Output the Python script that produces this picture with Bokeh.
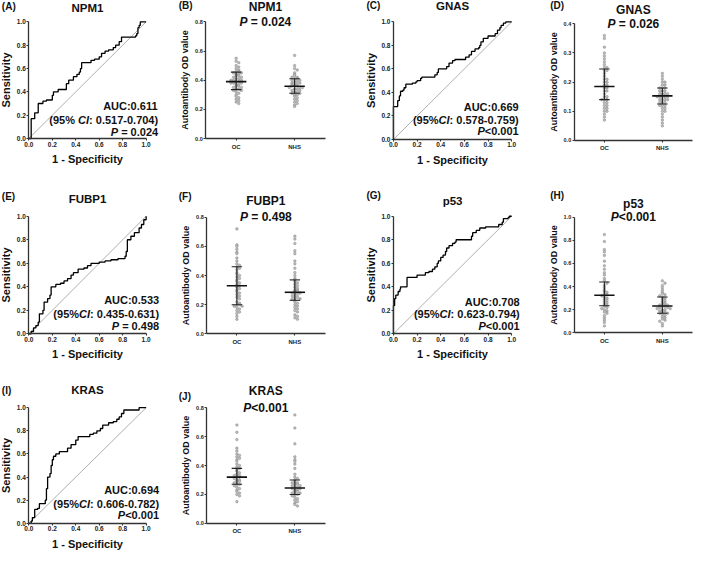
from bokeh.plotting import figure
from bokeh.layouts import column, row
from bokeh.models import Range1d, FixedTicker, PrintfTickFormatter, Label
from bokeh.embed import file_html
from bokeh.resources import INLINE

FONT = "Liberation Sans"
INK = "#111111"
AXIS = "#333333"

# ---------------- ROC curves (FPR = 1 - specificity, TPR = sensitivity) ----------------
chance_line = [0.0, 1.0]

npm1_fpr = [0, 0.02, 0.05, 0.08, 0.12, 0.15, 0.20, 0.21, 0.25, 0.32, 0.34, 0.38, 0.41, 0.43, 0.44, 0.45,
            0.53, 0.56, 0.60, 0.62, 0.65, 0.68, 0.72, 0.74, 0.77, 0.79, 0.91, 0.92, 0.93, 0.94, 0.95, 1.0]
npm1_tpr = [0, 0.17, 0.22, 0.30, 0.32, 0.33, 0.37, 0.40, 0.42, 0.47, 0.50, 0.53, 0.55, 0.57, 0.60, 0.65,
            0.67, 0.68, 0.70, 0.73, 0.75, 0.76, 0.78, 0.80, 0.83, 0.87, 0.88, 0.90, 0.95, 0.97, 1.0, 1.0]

gnas_fpr = [0, 0, 0.036, 0.05, 0.06, 0.08, 0.09, 0.105, 0.16, 0.19, 0.20, 0.23, 0.24, 0.35, 0.37, 0.38,
            0.40, 0.45, 0.47, 0.50, 0.52, 0.61, 0.64, 0.66, 0.69, 0.72, 0.73, 0.74, 0.76, 0.80, 0.86, 0.88,
            0.90, 0.91, 0.93, 0.95, 1.0]
gnas_tpr = [0, 0.28, 0.33, 0.37, 0.41, 0.42, 0.44, 0.47, 0.48, 0.49, 0.50, 0.52, 0.53, 0.55, 0.57, 0.60,
            0.60, 0.62, 0.65, 0.67, 0.68, 0.70, 0.72, 0.75, 0.77, 0.78, 0.80, 0.83, 0.86, 0.88, 0.90, 0.93,
            0.95, 0.97, 0.99, 1.0, 1.0]

fubp1_fpr = [0, 0.02, 0.04, 0.06, 0.08, 0.09, 0.12, 0.13, 0.16, 0.18, 0.19, 0.23, 0.27, 0.30, 0.33, 0.36,
             0.38, 0.42, 0.47, 0.50, 0.53, 0.60, 0.65, 0.70, 0.76, 0.82, 0.83, 0.84, 0.87, 0.90, 0.94, 0.96,
             0.98, 1.0]
fubp1_tpr = [0, 0.02, 0.05, 0.07, 0.10, 0.17, 0.20, 0.27, 0.30, 0.33, 0.40, 0.42, 0.43, 0.45, 0.47, 0.50,
             0.52, 0.55, 0.56, 0.58, 0.60, 0.61, 0.62, 0.63, 0.64, 0.66, 0.70, 0.80, 0.83, 0.86, 0.90, 0.93,
             0.97, 1.0]

p53_fpr = [0, 0, 0.01, 0.02, 0.04, 0.055, 0.06, 0.115, 0.20, 0.27, 0.30, 0.33, 0.35, 0.37, 0.38, 0.40,
           0.42, 0.44, 0.45, 0.47, 0.50, 0.52, 0.53, 0.66, 0.67, 0.70, 0.73, 0.78, 0.89, 0.92, 0.93, 0.97,
           0.98, 1.0]
p53_tpr = [0, 0.24, 0.30, 0.33, 0.36, 0.38, 0.40, 0.48, 0.50, 0.52, 0.53, 0.55, 0.57, 0.60, 0.62, 0.65,
           0.67, 0.70, 0.73, 0.75, 0.77, 0.78, 0.80, 0.83, 0.86, 0.88, 0.90, 0.91, 0.93, 0.95, 0.98, 0.99,
           1.0, 1.0]

kras_fpr = [0, 0.02, 0.03, 0.05, 0.075, 0.09, 0.14, 0.15, 0.16, 0.18, 0.19, 0.20, 0.21, 0.23, 0.26, 0.33,
            0.36, 0.40, 0.42, 0.52, 0.55, 0.58, 0.61, 0.63, 0.68, 0.72, 0.75, 0.77, 0.79, 0.81, 0.94, 1.0]
kras_tpr = [0, 0.02, 0.05, 0.12, 0.13, 0.17, 0.20, 0.30, 0.40, 0.43, 0.50, 0.55, 0.58, 0.60, 0.62, 0.65,
            0.68, 0.72, 0.75, 0.77, 0.78, 0.80, 0.82, 0.85, 0.87, 0.88, 0.90, 0.92, 0.95, 0.98, 1.0, 1.0]

roc_auc = ["AUC:0.611", "AUC:0.669", "AUC:0.533", "AUC:0.708", "AUC:0.694"]
roc_ci = [("(95% ", ": 0.517-0.704)"), ("(95%", ": 0.578-0.759)"), ("(95%", ": 0.435-0.631)"),
          ("(95%", ": 0.623-0.794)"), ("(95%", ": 0.606-0.782)")]
roc_p = [" = 0.024", "<0.001", " = 0.498", "<0.001", "<0.001"]

# ---------------- Autoantibody OD values ----------------
groups = ["OC", "NHS"]
npm1_oc = [0.55, 0.53, 0.52, 0.50, 0.49, 0.48, 0.47, 0.46, 0.46, 0.45, 0.45, 0.44, 0.44, 0.43, 0.43, 0.42,
           0.42, 0.41, 0.41, 0.40, 0.40, 0.40, 0.39, 0.39, 0.38, 0.38, 0.38, 0.37, 0.37, 0.36, 0.36, 0.35,
           0.35, 0.34, 0.34, 0.33, 0.33, 0.32, 0.31, 0.30, 0.29, 0.28, 0.27, 0.26, 0.25, 0.24]
npm1_nhs = [0.57, 0.50, 0.48, 0.47, 0.45, 0.44, 0.43, 0.42, 0.42, 0.41, 0.41, 0.40, 0.40, 0.39, 0.39, 0.38,
            0.38, 0.37, 0.37, 0.37, 0.36, 0.36, 0.36, 0.35, 0.35, 0.35, 0.34, 0.34, 0.33, 0.33, 0.32, 0.32,
            0.31, 0.31, 0.30, 0.30, 0.29, 0.28, 0.27, 0.26, 0.25, 0.24, 0.23, 0.22]
gnas_oc = [0.36, 0.35, 0.32, 0.30, 0.29, 0.28, 0.27, 0.26, 0.25, 0.25, 0.24, 0.24, 0.23, 0.22, 0.21, 0.21,
           0.20, 0.20, 0.19, 0.19, 0.18, 0.18, 0.17, 0.17, 0.16, 0.15, 0.15, 0.14, 0.14, 0.14, 0.13, 0.13,
           0.12, 0.12, 0.11, 0.11, 0.10, 0.10, 0.09, 0.08, 0.07]
gnas_nhs = [0.23, 0.22, 0.21, 0.20, 0.20, 0.19, 0.19, 0.18, 0.18, 0.18, 0.17, 0.17, 0.17, 0.16, 0.16, 0.16,
            0.16, 0.15, 0.15, 0.15, 0.15, 0.15, 0.14, 0.14, 0.14, 0.14, 0.13, 0.13, 0.13, 0.12, 0.12, 0.12,
            0.11, 0.11, 0.10, 0.10, 0.09, 0.08, 0.07, 0.06, 0.05]
fubp1_oc = [0.72, 0.61, 0.60, 0.58, 0.56, 0.55, 0.52, 0.50, 0.48, 0.47, 0.46, 0.45, 0.44, 0.42, 0.41, 0.40,
            0.39, 0.38, 0.37, 0.36, 0.35, 0.34, 0.33, 0.32, 0.31, 0.30, 0.29, 0.28, 0.27, 0.26, 0.25, 0.24,
            0.22, 0.21, 0.20, 0.20, 0.19, 0.19, 0.18, 0.17, 0.16, 0.15, 0.14, 0.12, 0.10]
fubp1_nhs = [0.67, 0.65, 0.62, 0.57, 0.55, 0.50, 0.48, 0.45, 0.42, 0.40, 0.38, 0.37, 0.36, 0.35, 0.34, 0.33,
             0.32, 0.31, 0.30, 0.30, 0.29, 0.29, 0.28, 0.28, 0.27, 0.27, 0.26, 0.25, 0.25, 0.24, 0.24, 0.23,
             0.22, 0.21, 0.20, 0.19, 0.18, 0.17, 0.16, 0.15, 0.13, 0.12, 0.11, 0.10]
p53_oc = [0.85, 0.79, 0.72, 0.70, 0.67, 0.62, 0.58, 0.55, 0.52, 0.50, 0.47, 0.45, 0.43, 0.41, 0.39, 0.37,
          0.36, 0.35, 0.34, 0.33, 0.32, 0.31, 0.30, 0.29, 0.28, 0.27, 0.26, 0.25, 0.24, 0.23, 0.22, 0.21,
          0.20, 0.19, 0.18, 0.17, 0.15, 0.13, 0.11, 0.09, 0.06]
p53_nhs = [0.45, 0.43, 0.41, 0.39, 0.37, 0.35, 0.34, 0.33, 0.32, 0.31, 0.30, 0.29, 0.28, 0.27, 0.26, 0.25,
           0.25, 0.24, 0.24, 0.23, 0.23, 0.22, 0.22, 0.21, 0.21, 0.20, 0.20, 0.19, 0.18, 0.18, 0.17, 0.17,
           0.16, 0.15, 0.14, 0.13, 0.12, 0.11, 0.10, 0.08, 0.06]
kras_oc = [0.68, 0.63, 0.58, 0.52, 0.50, 0.48, 0.47, 0.46, 0.45, 0.44, 0.43, 0.41, 0.40, 0.39, 0.38, 0.37,
           0.36, 0.35, 0.34, 0.33, 0.33, 0.32, 0.32, 0.31, 0.30, 0.30, 0.29, 0.29, 0.28, 0.27, 0.27, 0.26,
           0.25, 0.24, 0.23, 0.22, 0.21, 0.20, 0.19, 0.15]
kras_nhs = [0.75, 0.66, 0.55, 0.46, 0.44, 0.43, 0.41, 0.38, 0.34, 0.32, 0.31, 0.30, 0.29, 0.28, 0.28, 0.27,
            0.27, 0.26, 0.26, 0.25, 0.25, 0.24, 0.24, 0.23, 0.23, 0.22, 0.22, 0.21, 0.21, 0.20, 0.20, 0.19,
            0.18, 0.17, 0.16, 0.15, 0.14, 0.13, 0.12]

# centre line and error bar ends per group [OC, NHS]
npm1_mid, npm1_lo, npm1_hi = [0.39, 0.358], [0.335, 0.31], [0.455, 0.41]
gnas_mid, gnas_lo, gnas_hi = [0.185, 0.153], [0.14, 0.125], [0.245, 0.18]
fubp1_mid, fubp1_lo, fubp1_hi = [0.33, 0.285], [0.20, 0.23], [0.46, 0.37]
p53_mid, p53_lo, p53_hi = [0.325, 0.232], [0.235, 0.17], [0.44, 0.31]
kras_mid, kras_lo, kras_hi = [0.32, 0.245], [0.27, 0.20], [0.38, 0.30]
dot_p = [" = 0.024", " = 0.026", " = 0.498", "<0.001", "<0.001"]

# ---------------- layout geometry ----------------
SX, SY = 693 / 709, 552 / 568
COL_X, COL_W = [0, 165, 345, 522], [165, 180, 177, 171]
ROW_Y, ROW_H = [0, 186, 381], [186, 195, 171]

# ---------------- helpers ----------------
CW = {" ": 0.278, ".": 0.278, "-": 0.333, ":": 0.333, "(": 0.333, ")": 0.333, "%": 0.889, "=": 0.584,
      "<": 0.584, "P": 0.667, "C": 0.722, "I": 0.278, "A": 0.722, "U": 0.722}


def tw(s, size):
    return sum(CW.get(c, 0.556) for c in s) * size


def rich(p, x, y, segs, size, align, x_off=0.0, y_off=0.0):
    widths = [tw(t, size) for t, _ in segs]
    total = sum(widths)
    cur = x_off - (total if align == "right" else total / 2 if align == "center" else 0)
    for (t, st), w in zip(segs, widths):
        lead = len(t) - len(t.lstrip(" "))
        p.add_layout(Label(x=x, y=y, x_offset=cur + lead * CW[" "] * size, y_offset=y_off, text=t.strip(),
                           text_font=FONT, text_font_size=f"{size}px", text_font_style=st,
                           text_align="left", text_baseline="middle", text_color=INK))
        cur += w


def letter(p, x, y, txt, dx, dy):
    p.add_layout(Label(x=x, y=y, x_offset=dx, y_offset=dy, text=txt, text_font=FONT, text_font_size="10px",
                       text_font_style="bold", text_align="left", text_baseline="middle", text_color=INK))


def base_fig(col, rw, frame_ref, x0, x1, y0, y1):
    w, h = COL_W[col], ROW_H[rw]
    l = frame_ref[0] * SX - COL_X[col]
    t = frame_ref[1] * SY - ROW_Y[rw]
    fw = (frame_ref[2] - frame_ref[0]) * SX
    fh = (frame_ref[3] - frame_ref[1]) * SY
    ux, uy = fw / (x1 - x0), fh / (y1 - y0)
    xs = x0 - l / ux
    ye = y1 + t / uy
    p = figure(width=w, height=h, x_range=Range1d(xs, xs + w / ux), y_range=Range1d(ye - h / uy, ye),
               toolbar_location=None, output_backend="svg", title=None,
               min_border_left=0, min_border_right=0, min_border_top=0, min_border_bottom=0)
    p.outline_line_color = None
    p.xgrid.visible = False
    p.ygrid.visible = False
    p.background_fill_color = "white"
    p.border_fill_color = "white"
    p.xaxis.fixed_location = y0
    p.yaxis.fixed_location = x0
    p.xaxis.bounds = (x0, x1)
    p.yaxis.bounds = (y0, y1)
    for ax in p.axis:
        ax.axis_line_color = AXIS
        ax.axis_line_width = 1.3
        ax.major_tick_line_color = AXIS
        ax.major_tick_line_width = 1.1
        ax.major_tick_in = 0
        ax.major_tick_out = 2
        ax.minor_tick_line_color = None
        ax.major_label_text_font = FONT
        ax.major_label_text_font_style = "bold"
        ax.major_label_text_color = "#222222"
        ax.axis_label_text_font = FONT
        ax.axis_label_text_font_style = "bold"
        ax.axis_label_text_color = INK
        ax.major_label_standoff = 1
    return p


def roc_panel(col, rw, frame_ref, i, name, fpr, tpr, lab, lab_dxy, title_dy, ann_dx, ann_y):
    p = base_fig(col, rw, frame_ref, 0, 1, 0, 1)
    ticks = [0, 0.2, 0.4, 0.6, 0.8, 1.0]
    for ax in p.axis:
        ax.ticker = FixedTicker(ticks=ticks)
        ax.formatter = PrintfTickFormatter(format="%.1f")
        ax.major_label_text_font_size = "6.5px"
        ax.axis_label_text_font_size = "11px"
    p.xaxis.axis_label = "1 - Specificity"
    p.xaxis.axis_label_standoff = 3
    p.yaxis.axis_label = "Sensitivity"
    p.yaxis.axis_label_standoff = 1
    p.line(chance_line, chance_line, line_color="#9a9a9a", line_width=0.8)
    p.step(fpr, tpr, mode="after", line_color="black", line_width=1.3)
    p.add_layout(Label(x=0.5, y=1.0, y_offset=title_dy, text=name, text_font=FONT, text_font_size="11.5px",
                       text_font_style="bold", text_align="center", text_baseline="middle", text_color=INK))
    letter(p, 0, 1.0, lab, lab_dxy[0], lab_dxy[1])
    rich(p, 1.0, ann_y[0], [(roc_auc[i], "bold")], 11, "right", ann_dx)
    rich(p, 1.0, ann_y[1], [(roc_ci[i][0], "bold"), ("CI", "bold italic"), (roc_ci[i][1], "bold")], 11,
         "right", ann_dx)
    rich(p, 1.0, ann_y[2], [("P", "bold italic"), (roc_p[i], "bold")], 11, "right", ann_dx)
    return p


def swarm(vals, centre, ymax):
    binsize = ymax * 0.022
    counts = {}
    xs = []
    for v in vals:
        k = round(v / binsize)
        n = counts.get(k, 0)
        counts[k] = n + 1
        step = (n + 1) // 2
        step = ((step - 1) % 3) + 1 if step > 0 else 0
        xs.append(centre + (step * 0.045 if n % 2 else -step * 0.045))
    return xs


def dot_panel(col, rw, frame_ref, i, name, oc, nhs, mid, lo, hi, ymax, yticks, lab, lab_dxy, dy1, dy2):
    p = base_fig(col, rw, frame_ref, 0.48, 2.52, 0, ymax)
    p.yaxis.ticker = FixedTicker(ticks=yticks)
    p.yaxis.formatter = PrintfTickFormatter(format="%.1f")
    p.yaxis.major_label_text_font_size = "5.5px"
    p.yaxis.axis_label = "Autoantibody OD value"
    p.yaxis.axis_label_text_font_size = "9px"
    p.yaxis.axis_label_standoff = 2
    p.xaxis.ticker = FixedTicker(ticks=[1, 2])
    p.xaxis.major_label_overrides = {1: groups[0], 2: groups[1]}
    p.xaxis.major_label_text_font_size = "6px"
    p.xaxis.major_label_standoff = 3
    for c, vals in ((1, oc), (2, nhs)):
        p.scatter(swarm(vals, c, ymax), vals, size=2.6, marker="circle", fill_color="#bdbdbd",
                  line_color="#7a7a7a", line_width=0.4)
    xs = [1, 2]
    p.segment(x0=[x - 0.175 for x in xs], x1=[x + 0.175 for x in xs], y0=mid, y1=mid,
              line_color="#111111", line_width=1.6)
    p.segment(x0=xs, x1=xs, y0=lo, y1=hi, line_color="#222222", line_width=1.1)
    for ends in (lo, hi):
        p.segment(x0=[x - 0.09 for x in xs], x1=[x + 0.09 for x in xs], y0=ends, y1=ends,
                  line_color="#222222", line_width=1.1)
    p.add_layout(Label(x=1.5, y=ymax, y_offset=dy1, text=name, text_font=FONT, text_font_size="12px",
                       text_font_style="bold", text_align="center", text_baseline="middle", text_color=INK))
    rich(p, 1.5, ymax, [("P", "bold italic"), (dot_p[i], "bold")], 12, "center", 0, dy2)
    letter(p, 0.48, ymax, lab, lab_dxy[0], lab_dxy[1])
    return p


t8 = [0, 0.2, 0.4, 0.6, 0.8]
t4 = [0, 0.1, 0.2, 0.3, 0.4]
t10 = [0, 0.2, 0.4, 0.6, 0.8, 1.0]

pA = roc_panel(0, 0, (29, 22, 149, 142), 0, "NPM1", npm1_fpr, npm1_tpr, "(A)", (-27, 15), 14, 12,
               (0.275, 0.16, 0.055))
pB = dot_panel(1, 0, (210, 22, 332, 142), 0, "NPM1", npm1_oc, npm1_nhs, npm1_mid, npm1_lo, npm1_hi, 0.8, t8,
               "(B)", (-27, 16), 15, 0)
pC = roc_panel(2, 0, (402, 22, 523, 143), 1, "GNAS", gnas_fpr, gnas_tpr, "(C)", (-27, 16), 16, 7,
               (0.277, 0.166, 0.07))
pD = dot_panel(3, 0, (587, 24, 708, 144), 1, "GNAS", gnas_oc, gnas_nhs, gnas_mid, gnas_lo, gnas_hi, 0.4, t4,
               "(D)", (-24, 18), 14, 0)
pE = roc_panel(0, 1, (29, 222, 149, 343), 2, "FUBP1", fubp1_fpr, fubp1_tpr, "(E)", (-27, 20), 17, 13,
               (0.284, 0.165, 0.063))
pF = dot_panel(1, 1, (211, 223, 332, 343), 2, "FUBP1", fubp1_oc, fubp1_nhs, fubp1_mid, fubp1_lo, fubp1_hi,
               0.8, t8, "(F)", (-28, 21), 16, 0)
pG = roc_panel(2, 1, (402, 222, 523, 343), 3, "p53", p53_fpr, p53_tpr, "(G)", (-27, 21), 15, 8,
               (0.27, 0.165, 0.063))
pH = dot_panel(3, 1, (587, 223, 708, 342), 3, "p53", p53_oc, p53_nhs, p53_mid, p53_lo, p53_hi, 1.0, t10,
               "(H)", (-24, 22), 13, 0)
pI = roc_panel(0, 2, (29, 419, 149, 538), 4, "KRAS", kras_fpr, kras_tpr, "(I)", (-27, 17), 18, 13,
               (0.29, 0.17, 0.07))
pJ = dot_panel(1, 2, (211, 419, 332, 538), 4, "KRAS", kras_oc, kras_nhs, kras_mid, kras_lo, kras_hi, 0.8, t8,
               "(J)", (-28, 11), 17, 0)

layout = column(row(pA, pB, pC, pD), row(pE, pF, pG, pH), row(pI, pJ))
open("out.html", "w").write(file_html(layout, INLINE))
